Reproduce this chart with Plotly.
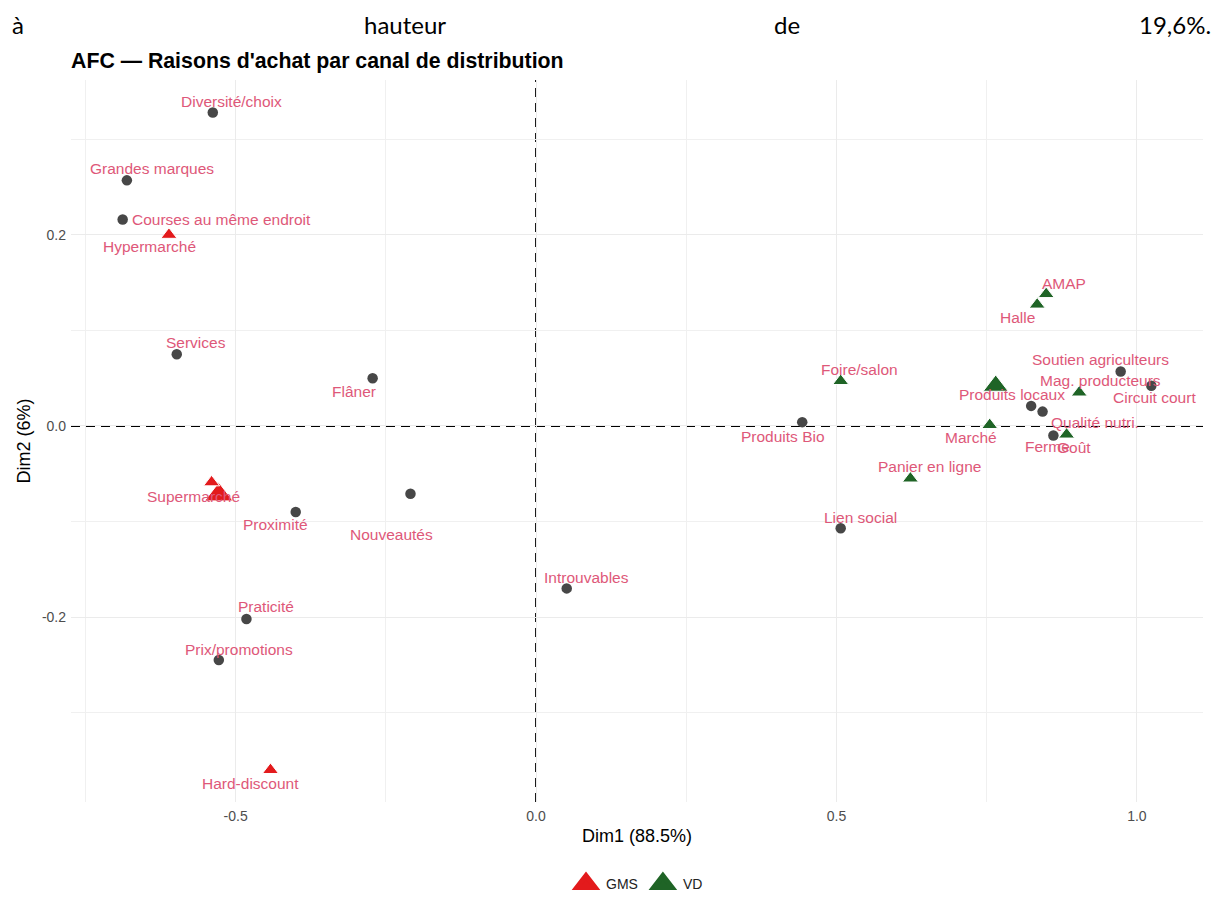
import plotly.graph_objects as go

# --- Correspondence analysis coordinates -------------------------------------
# Row points: reasons for buying
raisons = ["Diversité/choix", "Grandes marques", "Courses au même endroit", "Services",
           "Flâner", "Proximité", "Nouveautés", "Praticité", "Prix/promotions",
           "Introuvables", "Produits Bio", "Lien social", "Soutien agriculteurs",
           "Circuit court", "Produits locaux", "Qualité nutri.", "Goût"]
raisons_dim1 = [-0.538, -0.681, -0.688, -0.598, -0.272, -0.400, -0.209, -0.482, -0.528,
                0.051, 0.443, 0.507, 0.973, 1.024, 0.824, 0.843, 0.861]
raisons_dim2 = [0.328, 0.257, 0.216, 0.075, 0.050, -0.090, -0.071, -0.202, -0.245,
                -0.170, 0.004, -0.107, 0.057, 0.042, 0.021, 0.015, -0.010]

# Column points: distribution channels
canaux = ["Hypermarché", "Supermarché", "Supérette", "Hard-discount", "AMAP", "Halle",
          "Foire/salon", "Mag. producteurs", "Marché", "Panier en ligne", "Ferme",
          "Drive fermier"]
canaux_type = ["GMS", "GMS", "GMS", "GMS", "VD", "VD", "VD", "VD", "VD", "VD", "VD", "VD"]
canaux_dim1 = [-0.611, -0.528, -0.540, -0.442, 0.849, 0.834, 0.507, 0.904, 0.755, 0.623,
               0.883, 0.765]
canaux_dim2 = [0.200, -0.072, -0.059, -0.360, 0.138, 0.127, 0.047, 0.035, 0.001, -0.055,
               -0.009, 0.042]
canaux_poids = [1.0, 1.75, 1.0, 1.0, 1.0, 1.0, 1.0, 1.0, 1.0, 1.0, 1.0, 1.55]

inertie_dim1 = "88.5%"
inertie_dim2 = "6%"

x_ticks = [-0.5, 0.0, 0.5, 1.0]
x_tick_labels = ["-0.5", "0.0", "0.5", "1.0"]
y_ticks = [-0.2, 0.0, 0.2]
y_tick_labels = ["-0.2", "0.0", "0.2"]

# --- Styling ------------------------------------------------------------------
W, H = 1223, 899
M_L, M_R, M_T, M_B = 71, 20, 80, 97
PW, PH = W - M_L - M_R, H - M_T - M_B

COL_GROUP = {"GMS": "#E31A1C", "VD": "#1F6426"}
COL_POINT = "#474747"
COL_LABEL = "#DE5879"
LABEL_FONT = dict(family="Liberation Sans, Arial, sans-serif", size=15.5, color=COL_LABEL)
BASE_TRI = 14       # triangle marker size for a unit weight

# repelled label placement (pixel offsets from the point, +y downwards)
label_offsets = {
    "Diversité/choix": (19, -11), "Grandes marques": (25, -12),
    "Courses au même endroit": (99, 0), "Services": (19, -12), "Flâner": (-19, 13),
    "Proximité": (-20, 13), "Nouveautés": (-19, 41), "Praticité": (20, -12),
    "Prix/promotions": (20, -11), "Introuvables": (20, -11), "Produits Bio": (-19, 14),
    "Lien social": (20, -11), "Soutien agriculteurs": (-20, -12), "Circuit court": (3, 12),
    "Produits locaux": (-19, -11), "Qualité nutri.": (52, 11), "Goût": (21, 12),
    "Hypermarché": (-19, 12), "Supermarché": (-25, 2), "Hard-discount": (-20, 14),
    "AMAP": (18, -11), "Halle": (-20, 13), "Foire/salon": (19, -12),
    "Mag. producteurs": (21, -12), "Marché": (-19, 13), "Panier en ligne": (19, -12),
    "Ferme": (-19, 12),
}


def px_x(p):
    return (p - M_L) / PW


def px_y(p):
    return (M_T + PH - p) / PH


fig = go.Figure()

# reference axes through the origin
fig.add_shape(type="line", xref="x", yref="paper", x0=0, x1=0, y0=0, y1=1, layer="below",
              line=dict(color="black", width=1.9, dash="9px,6px"))
fig.add_shape(type="line", xref="paper", yref="y", x0=0, x1=1, y0=0, y1=0, layer="below",
              line=dict(color="black", width=1.9, dash="9px,6px"))

fig.add_trace(go.Scatter(
    x=raisons_dim1, y=raisons_dim2, mode="markers", showlegend=False,
    marker=dict(symbol="circle", size=10.5, color=COL_POINT, opacity=1),
    hovertext=raisons, hoverinfo="text"))

for grp in ["GMS", "VD"]:
    idx = [i for i, t in enumerate(canaux_type) if t == grp]
    fig.add_trace(go.Scatter(
        x=[canaux_dim1[i] for i in idx], y=[canaux_dim2[i] for i in idx],
        mode="markers", name=grp, legendgroup=grp, showlegend=False,
        hovertext=[canaux[i] for i in idx], hoverinfo="text",
        marker=dict(symbol="triangle-up", color=COL_GROUP[grp], opacity=1,
                    size=[BASE_TRI * canaux_poids[i] for i in idx])))

# legend keys (no data, larger symbol)
for grp in ["GMS", "VD"]:
    fig.add_trace(go.Scatter(
        x=[None], y=[None], mode="markers", name=grp, legendgroup=grp,
        marker=dict(symbol="triangle-up", color=COL_GROUP[grp], size=16,
                    line=dict(color=COL_GROUP[grp], width=5))))

for names, xs, ys in [(raisons, raisons_dim1, raisons_dim2),
                      (canaux, canaux_dim1, canaux_dim2)]:
    for n, xv, yv in zip(names, xs, ys):
        if n not in label_offsets:
            continue
        dx, dy = label_offsets[n]
        fig.add_annotation(x=xv, y=yv, xref="x", yref="y", text=n, showarrow=False,
                           xshift=dx, yshift=-dy, font=LABEL_FONT)

# running text line above the chart
TEXT_FONT = dict(family="Lato, Open Sans, sans-serif", size=24, color="black")
for txt, xp, anchor in [("à", 10, "left"), ("hauteur", 405, "center"),
                        ("de", 787, "center"), ("19,6%.", 1213, "right")]:
    fig.add_annotation(x=px_x(xp), y=px_y(24), xref="paper", yref="paper", text=txt,
                       showarrow=False, xanchor=anchor, yanchor="middle", font=TEXT_FONT)

AX_COMMON = dict(showline=False, zeroline=False, ticks="", gridcolor="#EBEBEB",
                 gridwidth=1.2, tickfont=dict(family="Liberation Sans, Arial, sans-serif",
                                              size=14, color="#4D4D4D"),
                 title_font=dict(family="Liberation Sans, Arial, sans-serif", size=18,
                                 color="black"))

fig.update_layout(
    width=W, height=H, margin=dict(l=M_L, r=M_R, t=M_T, b=M_B, autoexpand=False),
    paper_bgcolor="white", plot_bgcolor="white",
    title=dict(text="<b>AFC — Raisons d'achat par canal de distribution</b>",
               font=dict(family="Liberation Sans, Arial, sans-serif", size=21.3,
                         color="black"),
               xref="paper", x=0, xanchor="left", yref="container", y=1 - 61 / H,
               yanchor="middle"),
    xaxis=dict(range=[-0.774, 1.110], tickvals=x_ticks, ticktext=x_tick_labels,
               title=dict(text=f"Dim1 ({inertie_dim1})", standoff=6),
               minor=dict(tickvals=[-0.75, -0.25, 0.25, 0.75], showgrid=True,
                          gridcolor="#F0F0F0", gridwidth=0.8),
               ticklabelstandoff=4, **AX_COMMON),
    yaxis=dict(range=[-0.3935, 0.362], tickvals=y_ticks, ticktext=y_tick_labels,
               title=dict(text=f"Dim2 ({inertie_dim2})", standoff=6),
               minor=dict(tickvals=[-0.3, -0.1, 0.1, 0.3], showgrid=True,
                          gridcolor="#F0F0F0", gridwidth=0.8),
               ticklabelstandoff=4, **AX_COMMON),
    legend=dict(orientation="h", x=0.5, xanchor="center", y=px_y(884), yanchor="middle",
                font=dict(family="Liberation Sans, Arial, sans-serif", size=14,
                          color="#222222"),
                bgcolor="rgba(0,0,0,0)", itemclick=False, itemdoubleclick=False),
    showlegend=True,
)

fig.write_html("out.html")
